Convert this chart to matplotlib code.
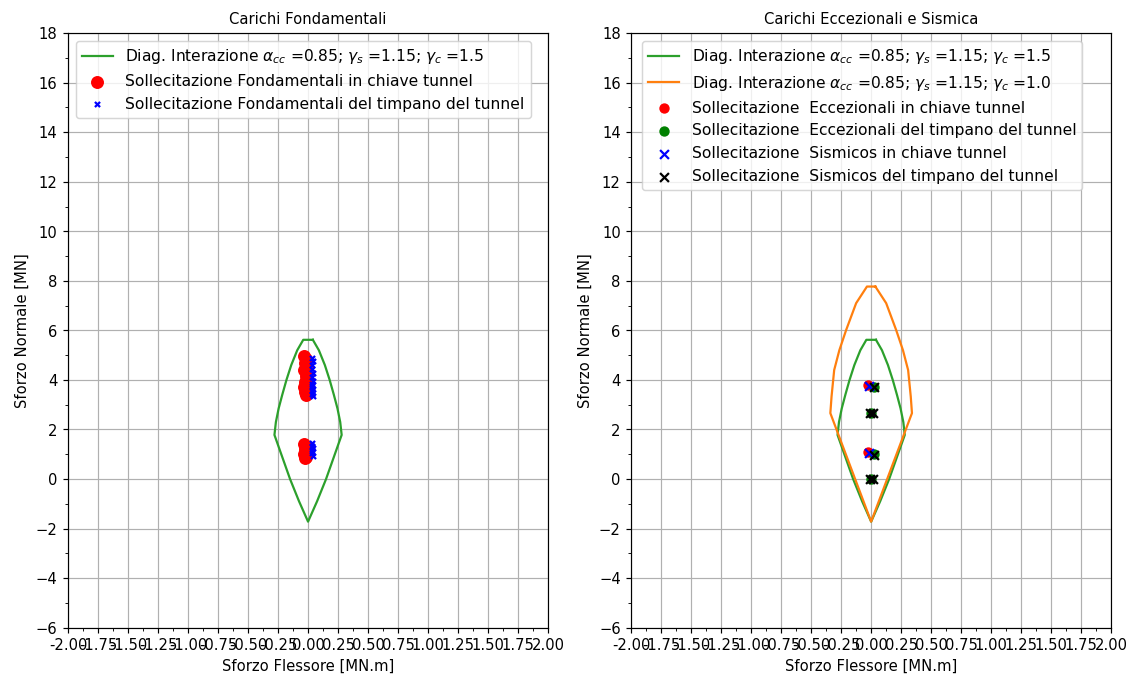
import matplotlib
matplotlib.use("Agg")
import matplotlib.pyplot as plt
from matplotlib.ticker import MultipleLocator, FormatStrFormatter

# Interaction domain (right half, top to bottom), mirrored for the left half
dom15_M = [0.04, 0.09, 0.14, 0.18, 0.215, 0.245, 0.268, 0.28, 0.15, 0.075, 0.0]
dom15_N = [5.62, 5.20, 4.60, 4.00, 3.40, 2.85, 2.30, 1.78, 0.00, -0.90, -1.72]
dom10_M = [0.035, 0.125, 0.208, 0.265, 0.308, 0.33, 0.34, 0.0]
dom10_N = [7.77, 7.10, 6.02, 5.20, 4.40, 3.33, 2.66, -1.72]

# Fundamental load combinations
fond_chiave_M = [-0.03, -0.02, -0.025, -0.015, -0.03, -0.02, -0.01, -0.025, -0.02, -0.03,
                 -0.015, -0.025, -0.02, -0.03, -0.02, -0.025, -0.015, -0.03, -0.02, -0.025]
fond_chiave_N = [4.95, 4.85, 4.70, 4.55, 4.40, 4.15, 4.00, 3.90, 3.80, 3.70,
                 3.60, 3.50, 3.40, 1.42, 1.30, 1.20, 1.10, 1.00, 0.90, 0.85]
fond_timpano_M = [0.03, 0.04, 0.035, 0.03, 0.045, 0.03, 0.04, 0.035, 0.03, 0.04,
                  0.035, 0.03, 0.04, 0.035, 0.03, 0.04, 0.035, 0.03, 0.04]
fond_timpano_N = [4.90, 4.75, 4.60, 4.45, 4.30, 4.10, 3.95, 3.85, 3.75, 3.65,
                  3.55, 3.45, 3.35, 1.45, 1.35, 1.25, 1.15, 1.05, 0.95]

# Exceptional and seismic load combinations
ecc_chiave_M = [-0.025, -0.025]
ecc_chiave_N = [3.78, 1.08]
ecc_timpano_M = [0.02, 0.02, 0.0, 0.0]
ecc_timpano_N = [3.72, 1.00, 2.68, 0.02]
sism_chiave_M = [-0.02, -0.02]
sism_chiave_N = [3.75, 1.05]
sism_timpano_M = [0.025, -0.01, 0.012, 0.025, -0.01, 0.012]
sism_timpano_N = [3.70, 2.68, 2.68, 0.98, 0.02, 0.02]

lab15 = r'Diag. Interazione $\alpha_{cc}$ =0.85; $\gamma_s$ =1.15; $\gamma_c$ =1.5'
lab10 = r'Diag. Interazione $\alpha_{cc}$ =0.85; $\gamma_s$ =1.15; $\gamma_c$ =1.0'


def closed(M, N):
    xs = list(M) + [-m for m in reversed(M)] + [M[0]]
    ys = list(N) + list(reversed(N)) + [N[0]]
    return xs, ys


DPI = 106.5
fig = plt.figure(figsize=(1141.2 / DPI, 679.2 / DPI), dpi=DPI)
ax1 = fig.add_axes([68 / 1141, 51.3 / 679, 480 / 1141, 594.4 / 679])
ax2 = fig.add_axes([631 / 1141, 51.3 / 679, 480 / 1141, 594.4 / 679])

x15, y15 = closed(dom15_M, dom15_N)
x10, y10 = closed(dom10_M, dom10_N)

ax1.plot(x15, y15, color='tab:green', label=lab15)
ax1.scatter(fond_chiave_M, fond_chiave_N, s=60, color='red',
            label='Sollecitazione Fondamentali in chiave tunnel', zorder=3)
ax1.scatter(fond_timpano_M, fond_timpano_N, s=12, marker='x', color='blue',
            label='Sollecitazione Fondamentali del timpano del tunnel', zorder=4)
ax1.set_title('Carichi Fondamentali', fontsize=10)

ax2.plot(x15, y15, color='tab:green', label=lab15)
ax2.plot(x10, y10, color='tab:orange', label=lab10)
ax2.scatter(ecc_chiave_M, ecc_chiave_N, s=36, color='red',
            label='Sollecitazione  Eccezionali in chiave tunnel', zorder=3)
ax2.scatter(ecc_timpano_M, ecc_timpano_N, s=36, color='green',
            label='Sollecitazione  Eccezionali del timpano del tunnel', zorder=3)
ax2.scatter(sism_chiave_M, sism_chiave_N, s=36, marker='x', color='blue',
            label='Sollecitazione  Sismicos in chiave tunnel', zorder=4)
ax2.scatter(sism_timpano_M, sism_timpano_N, s=36, marker='x', color='black',
            label='Sollecitazione  Sismicos del timpano del tunnel', zorder=4)
ax2.set_title('Carichi Eccezionali e Sismica', fontsize=10)

for ax in (ax1, ax2):
    ax.set_xlim(-2, 2)
    ax.set_ylim(-6, 18)
    ax.xaxis.set_major_locator(MultipleLocator(0.25))
    ax.xaxis.set_minor_locator(MultipleLocator(0.125))
    ax.xaxis.set_major_formatter(FormatStrFormatter('%.2f'))
    ax.yaxis.set_major_locator(MultipleLocator(2))
    ax.yaxis.set_minor_locator(MultipleLocator(1))
    ax.grid(True, which='major')
    ax.set_xlabel('Sforzo Flessore [MN.m]')
    ax.set_ylabel('Sforzo Normale [MN]')

ax1.legend(loc='upper left', fontsize=10.45)
ax2.legend(loc='upper left', fontsize=10.45, bbox_to_anchor=(0.007, 1.0))

fig.savefig('out.png', dpi=DPI)
